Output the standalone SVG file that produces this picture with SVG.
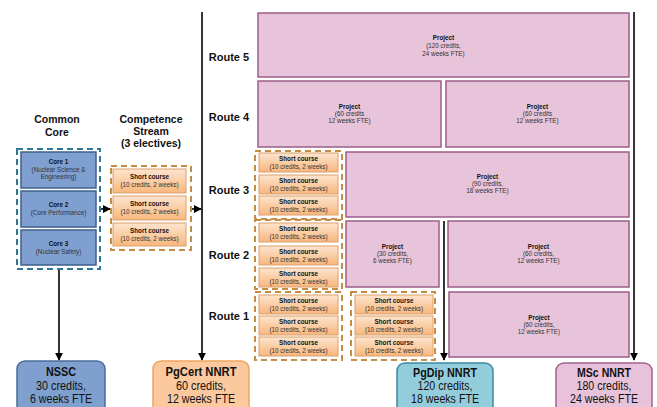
<svg xmlns="http://www.w3.org/2000/svg" width="657" height="407" viewBox="0 0 657 407">
<defs>
<linearGradient id="sc" x1="0" y1="0" x2="0" y2="1">
<stop offset="0" stop-color="#fde4cf"/>
<stop offset="1" stop-color="#f8b77c"/>
</linearGradient>
<marker id="ah" viewBox="0 0 10 10" refX="9" refY="5" markerWidth="5" markerHeight="5" orient="auto">
<path d="M0,0 L10,5 L0,10 z" fill="#000"/>
</marker>
</defs>
<style>
text{font-family:"Liberation Sans",Arial,sans-serif;text-anchor:middle;fill:#111}
.sm{font-size:6.3px;fill:#333}
.smb{font-size:6.3px;font-weight:bold;fill:#111}
.hd{font-size:10.5px;font-weight:bold}
.rt{font-size:11px;font-weight:bold}
.bt{font-size:12.5px;font-weight:bold}
.bl{font-size:12px}
.core{fill:#7e9fd0;stroke:#3e5f8e;stroke-width:1.5}
.sc{fill:url(#sc);stroke:#dca06a;stroke-width:1}
.dashb{fill:none;stroke:#2d7898;stroke-width:2;stroke-dasharray:6 4}
.dasho{fill:none;stroke:#c48c45;stroke-width:2;stroke-dasharray:6 4}
.proj{fill:#e7c4da;stroke:#9d5d88;stroke-width:1.5}
.ln{stroke:#000;stroke-width:1.6;fill:none}
</style>

<g id="titles">
<text class="hd" x="57" y="123">Common</text>
<text class="hd" x="57" y="136">Core</text>
<text class="hd" x="151" y="123">Competence</text>
<text class="hd" x="151" y="135">Stream</text>
<text class="hd" x="151" y="147">(3 electives)</text>
<text class="rt" x="229" y="61">Route 5</text>
<text class="rt" x="229" y="121">Route 4</text>
<text class="rt" x="229" y="194">Route 3</text>
<text class="rt" x="229" y="259">Route 2</text>
<text class="rt" x="229" y="320">Route 1</text>
</g>

<g id="connectors">
<line class="ln" x1="202" y1="12" x2="202" y2="360" marker-end="url(#ah)"/>
<line class="ln" x1="634" y1="12" x2="634" y2="360" marker-end="url(#ah)"/>
<line class="ln" x1="444" y1="221" x2="444" y2="360" marker-end="url(#ah)"/>
<line class="ln" x1="59" y1="270" x2="59" y2="360" marker-end="url(#ah)"/>
<line class="ln" x1="101" y1="209" x2="110" y2="209" marker-end="url(#ah)"/>
<line class="ln" x1="192" y1="209" x2="201" y2="209" marker-end="url(#ah)"/>
</g>

<g id="common-core">
<rect class="dashb" x="17" y="149" width="83" height="120"/>
<g id="core1">
<rect class="core" x="21" y="152" width="75" height="36"/>
<text class="smb" x="58.5" y="164">Core 1</text>
<text class="sm" x="58.5" y="172">(Nuclear Science &amp;</text>
<text class="sm" x="58.5" y="179">Engineering)</text>
</g>
<g id="core2">
<rect class="core" x="21" y="191" width="75" height="36"/>
<text class="smb" x="58.5" y="207">Core 2</text>
<text class="sm" x="58.5" y="215">(Core Performance)</text>
</g>
<g id="core3">
<rect class="core" x="21" y="230" width="75" height="35"/>
<text class="smb" x="58.5" y="246">Core 3</text>
<text class="sm" x="58.5" y="254">(Nuclear Safety)</text>
</g>
</g>

<g id="competence-stream">
<rect class="dasho" x="111" y="166" width="80" height="84"/>
<g id="cs1"><rect class="sc" x="113" y="169" width="73" height="24"/>
<text class="smb" x="149.5" y="179">Short course</text><text class="sm" x="149.5" y="187">(10 credits, 2 weeks)</text></g>
<g id="cs2"><rect class="sc" x="113" y="196" width="73" height="24"/>
<text class="smb" x="149.5" y="206">Short course</text><text class="sm" x="149.5" y="214">(10 credits, 2 weeks)</text></g>
<g id="cs3"><rect class="sc" x="113" y="223" width="73" height="23"/>
<text class="smb" x="149.5" y="233">Short course</text><text class="sm" x="149.5" y="241">(10 credits, 2 weeks)</text></g>
</g>

<g id="route5">
<g id="r5-project"><rect class="proj" x="258" y="13" width="371" height="64"/>
<text class="smb" x="443.5" y="40">Project</text><text class="sm" x="443.5" y="48">(120 credits,</text><text class="sm" x="443.5" y="56">24 weeks FTE)</text></g>
</g>

<g id="route4">
<g id="r4-project-a"><rect class="proj" x="258" y="81" width="183" height="66"/>
<text class="smb" x="349.5" y="109">Project</text><text class="sm" x="349.5" y="116">(60 credits</text><text class="sm" x="349.5" y="123">12 weeks FTE)</text></g>
<g id="r4-project-b"><rect class="proj" x="446" y="81" width="183" height="66"/>
<text class="smb" x="537.5" y="109">Project</text><text class="sm" x="537.5" y="116">(60 credits</text><text class="sm" x="537.5" y="123">12 weeks FTE)</text></g>
</g>

<g id="route3">
<rect class="dasho" x="255" y="151" width="87" height="68"/>
<g id="r3-sc1"><rect class="sc" x="259" y="153" width="79" height="19"/>
<text class="smb" x="298.5" y="161">Short course</text><text class="sm" x="298.5" y="168.5">(10 credits, 2 weeks)</text></g>
<g id="r3-sc2"><rect class="sc" x="259" y="175" width="79" height="19"/>
<text class="smb" x="298.5" y="183">Short course</text><text class="sm" x="298.5" y="190.5">(10 credits, 2 weeks)</text></g>
<g id="r3-sc3"><rect class="sc" x="259" y="196" width="79" height="19"/>
<text class="smb" x="298.5" y="204">Short course</text><text class="sm" x="298.5" y="211.5">(10 credits, 2 weeks)</text></g>
<g id="r3-project"><rect class="proj" x="346" y="152" width="283" height="65"/>
<text class="smb" x="487.5" y="179">Project</text><text class="sm" x="487.5" y="186">(90 credits,</text><text class="sm" x="487.5" y="193">18 weeks FTE)</text></g>
</g>

<g id="route2">
<rect class="dasho" x="255" y="220" width="87" height="69"/>
<g id="r2-sc1"><rect class="sc" x="259" y="223" width="79" height="19"/>
<text class="smb" x="298.5" y="231">Short course</text><text class="sm" x="298.5" y="238.5">(10 credits, 2 weeks)</text></g>
<g id="r2-sc2"><rect class="sc" x="259" y="246" width="79" height="19"/>
<text class="smb" x="298.5" y="254">Short course</text><text class="sm" x="298.5" y="261.5">(10 credits, 2 weeks)</text></g>
<g id="r2-sc3"><rect class="sc" x="259" y="268" width="79" height="19"/>
<text class="smb" x="298.5" y="276">Short course</text><text class="sm" x="298.5" y="283.5">(10 credits, 2 weeks)</text></g>
<g id="r2-project-a"><rect class="proj" x="346" y="221" width="93" height="66"/>
<text class="smb" x="392.5" y="249">Project</text><text class="sm" x="392.5" y="256">(30 credits,</text><text class="sm" x="392.5" y="263">6 weeks FTE)</text></g>
<g id="r2-project-b"><rect class="proj" x="448" y="221" width="181" height="66"/>
<text class="smb" x="538.5" y="249">Project</text><text class="sm" x="538.5" y="256">(60 credits,</text><text class="sm" x="538.5" y="263">12 weeks FTE)</text></g>
</g>

<g id="route1">
<rect class="dasho" x="255" y="292" width="87" height="68"/>
<g id="r1-sc1"><rect class="sc" x="259" y="295" width="79" height="19"/>
<text class="smb" x="298.5" y="303">Short course</text><text class="sm" x="298.5" y="310.5">(10 credits, 2 weeks)</text></g>
<g id="r1-sc2"><rect class="sc" x="259" y="316" width="79" height="19"/>
<text class="smb" x="298.5" y="324">Short course</text><text class="sm" x="298.5" y="331.5">(10 credits, 2 weeks)</text></g>
<g id="r1-sc3"><rect class="sc" x="259" y="337" width="79" height="19"/>
<text class="smb" x="298.5" y="345">Short course</text><text class="sm" x="298.5" y="352.5">(10 credits, 2 weeks)</text></g>
<rect class="dasho" x="351" y="292" width="84" height="68"/>
<g id="r1-sc4"><rect class="sc" x="355" y="295" width="78" height="19"/>
<text class="smb" x="394" y="303">Short course</text><text class="sm" x="394" y="310.5">(10 credits, 2 weeks)</text></g>
<g id="r1-sc5"><rect class="sc" x="355" y="316" width="78" height="19"/>
<text class="smb" x="394" y="324">Short course</text><text class="sm" x="394" y="331.5">(10 credits, 2 weeks)</text></g>
<g id="r1-sc6"><rect class="sc" x="355" y="337" width="78" height="19"/>
<text class="smb" x="394" y="345">Short course</text><text class="sm" x="394" y="352.5">(10 credits, 2 weeks)</text></g>
<g id="r1-project"><rect class="proj" x="449" y="292" width="180" height="65"/>
<text class="smb" x="539" y="320">Project</text><text class="sm" x="539" y="327">(60 credits,</text><text class="sm" x="539" y="334">12 weeks FTE)</text></g>
</g>

<g id="nssc">
<rect x="17" y="361" width="88" height="56" rx="8" fill="#7f9fcf" stroke="#4a6c9b" stroke-width="1.5"/>
<text class="bt" x="61" y="376" textLength="30" lengthAdjust="spacingAndGlyphs">NSSC</text>
<text class="bl" x="61" y="389.5" textLength="50" lengthAdjust="spacingAndGlyphs">30 credits,</text>
<text class="bl" x="61" y="402.5" textLength="62" lengthAdjust="spacingAndGlyphs">6 weeks FTE</text>
</g>
<g id="pgcert">
<rect x="153" y="361" width="96" height="56" rx="8" fill="#fbc99d" stroke="#eea45f" stroke-width="1.5"/>
<text class="bt" x="201" y="376" textLength="71" lengthAdjust="spacingAndGlyphs">PgCert NNRT</text>
<text class="bl" x="201" y="389.5" textLength="50" lengthAdjust="spacingAndGlyphs">60 credits,</text>
<text class="bl" x="201" y="402.5" textLength="68" lengthAdjust="spacingAndGlyphs">12 weeks FTE</text>
</g>
<g id="pgdip">
<rect x="397" y="363" width="96" height="54" rx="8" fill="#93cddc" stroke="#3a8aa0" stroke-width="1.5"/>
<text class="bt" x="445" y="377" textLength="64" lengthAdjust="spacingAndGlyphs">PgDip NNRT</text>
<text class="bl" x="445" y="390" textLength="55" lengthAdjust="spacingAndGlyphs">120 credits,</text>
<text class="bl" x="445" y="403" textLength="68" lengthAdjust="spacingAndGlyphs">18 weeks FTE</text>
</g>
<g id="msc">
<rect x="556" y="363" width="96" height="54" rx="8" fill="#e8c2da" stroke="#a0648c" stroke-width="1.5"/>
<text class="bt" x="604" y="377" textLength="54" lengthAdjust="spacingAndGlyphs">MSc NNRT</text>
<text class="bl" x="604" y="390" textLength="55" lengthAdjust="spacingAndGlyphs">180 credits,</text>
<text class="bl" x="604" y="403" textLength="68" lengthAdjust="spacingAndGlyphs">24 weeks FTE</text>
</g>
</svg>
